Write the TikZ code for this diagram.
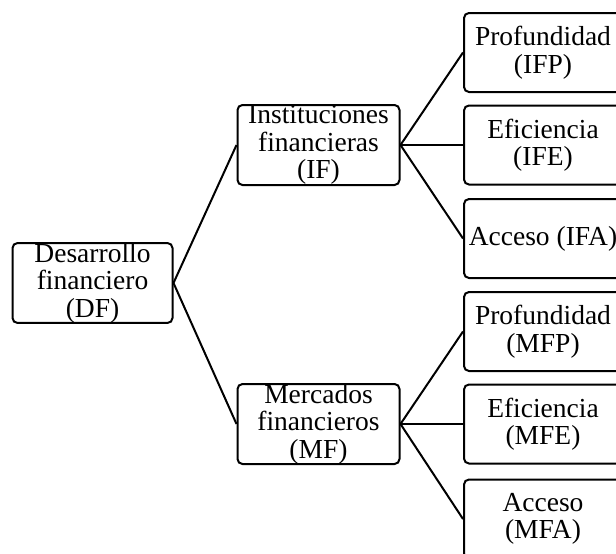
\documentclass[tikz,border=0pt]{standalone}
\usepackage{fontspec}
\setmainfont{Liberation Serif}
\begin{document}
\begin{tikzpicture}[x=1pt,y=-1pt,
  box/.style={draw=black, line width=2pt, rounded corners=5pt, inner sep=0pt,
    align=center, font=\fontsize{27.5}{27.5}\selectfont},
  lvl0/.style={box, minimum width=160pt, minimum height=78pt},
  lvl1/.style={box, minimum width=162pt, minimum height=80pt},
  lvl2/.style={box, minimum width=158pt, minimum height=79pt},
  conn/.style={line width=2pt}]
\useasboundingbox (0,0) rectangle (616,554);
\node[lvl0] (DF) at (92.5,283) {Desarrollo\\financiero\\(DF)};
\node[lvl1] (IF) at (318.5,145) {Instituciones\\financieras\\(IF)};
\node[lvl1] (MF) at (318.5,424) {Mercados\\financieros\\(MF)};
\node[lvl2] (IFP) at (543,52.5) {Profundidad\\(IFP)};
\node[lvl2] (IFE) at (543,145) {Eficiencia\\(IFE)};
\node[lvl2] (IFA) at (543,238.5) {Acceso (IFA)};
\node[lvl2] (MFP) at (543,331.5) {Profundidad\\(MFP)};
\node[lvl2] (MFE) at (543,424) {Eficiencia\\(MFE)};
\node[lvl2] (MFA) at (543,519) {Acceso\\(MFA)};
\draw[conn] (DF.east) -- (IF.west);
\draw[conn] (DF.east) -- (MF.west);
\foreach \t in {IFP,IFE,IFA} \draw[conn] (IF.east) -- (\t.west);
\foreach \t in {MFP,MFE,MFA} \draw[conn] (MF.east) -- (\t.west);
\end{tikzpicture}
\end{document}
